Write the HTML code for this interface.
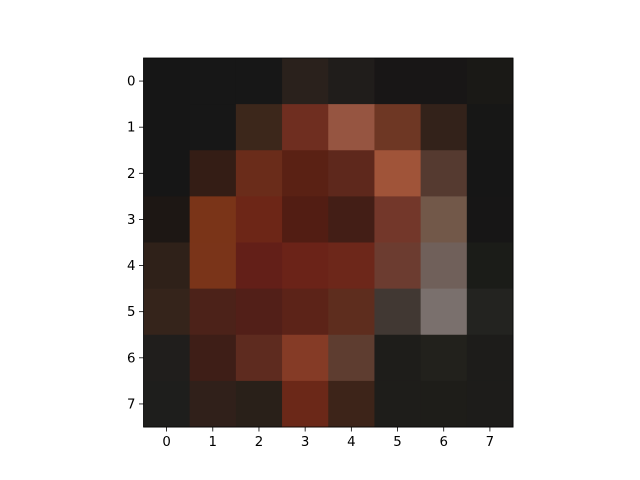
<!DOCTYPE html>
<html><head><meta charset="utf-8"><style>
body{margin:0;background:#fff;}
svg{display:block;font-family:"DejaVu Sans","Liberation Sans",sans-serif;}
</style></head><body>
<svg id="chart" width="640" height="480" viewBox="0 0 640 480">
<rect width="640" height="480" fill="#fff"/>
<g id="cells"></g>
<g id="axes"></g>
</svg>
<script>
const rows = [0,1,2,3,4,5,6,7];
const cols = [0,1,2,3,4,5,6,7];
const xTickLabels = ["0","1","2","3","4","5","6","7"];
const yTickLabels = ["0","1","2","3","4","5","6","7"];
const pixelColors = [
 ["#161616","#171717","#171717","#2a211c","#201d1b","#181616","#181616","#1a1916"],
 ["#161616","#171717","#3c271b","#6f2e20","#965541","#6e3724","#33221a","#171716"],
 ["#161616","#341d15","#6a2c1a","#5a2114","#5e281c","#a05439","#553a30","#161616"],
 ["#1d1714","#7a3418","#6d2617","#521d13","#431e16","#73372a","#725849","#171616"],
 ["#2f2119","#7a3419","#631f18","#6b2318","#6d271a","#6c3c30","#70605a","#1b1c18"],
 ["#35241b","#4c2219","#521f18","#5c2318","#5e2d1e","#413833","#7a706d","#232320"],
 ["#201e1c","#3e1e17","#5e2b1f","#853b26","#5e3d30","#1e1d1a","#22211c","#1d1c1a"],
 ["#1e1e1c","#30201a","#292019","#6b2818","#3d2419","#1e1d1a","#1e1d19","#1d1c1a"]
];
const NS="http://www.w3.org/2000/svg";
const L=143.5,R=513,T=58,B=427;
const cw=(R-L)/cols.length, ch=(B-T)/rows.length;
function xPos(c){return L+(c+0.5)*cw;}
function yPos(r){return T+(r+0.5)*ch;}
const cells=document.getElementById('cells');
rows.forEach((r,i)=>cols.forEach((c,j)=>{
 const e=document.createElementNS(NS,'rect');
 e.setAttribute('x',xPos(c)-cw/2);e.setAttribute('y',yPos(r)-ch/2);
 e.setAttribute('width',cw+0.5);e.setAttribute('height',ch+0.5);
 e.setAttribute('fill',pixelColors[i][j]);
 
 
 cells.appendChild(e);
}));
const ax=document.getElementById('axes');
const fr=document.createElementNS(NS,'rect');
fr.setAttribute('x',L);fr.setAttribute('y',T);fr.setAttribute('width',R-L);fr.setAttribute('height',B-T);
fr.setAttribute('fill','none');fr.setAttribute('stroke','#000');fr.setAttribute('stroke-width','0.8');


ax.appendChild(fr);
cols.forEach((c,i)=>{
 const x=xPos(c);
 const t=document.createElementNS(NS,'line');
 t.setAttribute('x1',x);t.setAttribute('x2',x);t.setAttribute('y1',B);t.setAttribute('y2',B+4.5);t.setAttribute('stroke','#000');t.setAttribute('stroke-width','0.8');
 
 
 ax.appendChild(t);
 const s=document.createElementNS(NS,'text');
 s.setAttribute('x',x);s.setAttribute('y',B+19);s.setAttribute('text-anchor','middle');s.setAttribute('font-size','13.3');
 s.textContent=xTickLabels[i];
 
 
 ax.appendChild(s);
});
rows.forEach((r,i)=>{
 const y=yPos(r);
 const t=document.createElementNS(NS,'line');
 t.setAttribute('x1',L-4.5);t.setAttribute('x2',L);t.setAttribute('y1',y);t.setAttribute('y2',y);t.setAttribute('stroke','#000');t.setAttribute('stroke-width','0.8');
 
 
 ax.appendChild(t);
 const s=document.createElementNS(NS,'text');
 s.setAttribute('x',L-8);s.setAttribute('y',y+4.5);s.setAttribute('text-anchor','end');s.setAttribute('font-size','13.3');
 s.textContent=yTickLabels[i];
 
 
 ax.appendChild(s);
});
</script>
</body></html>
